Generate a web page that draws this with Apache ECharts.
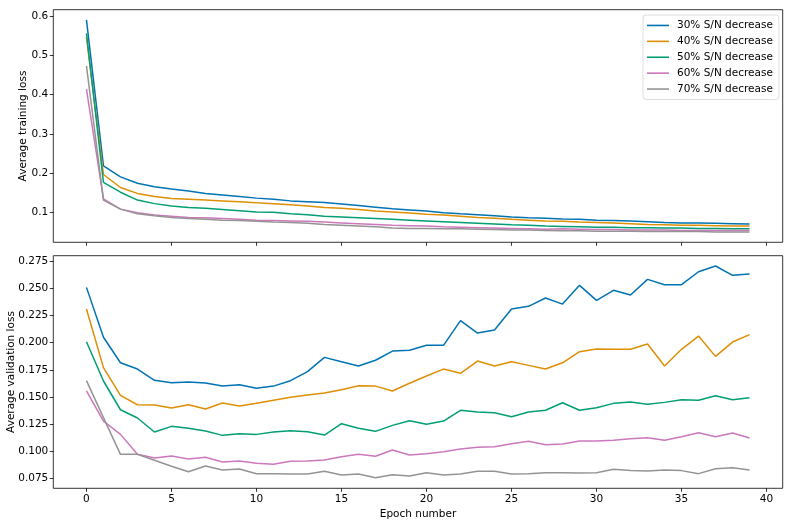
<!DOCTYPE html>
<html>
<head>
<meta charset="utf-8">
<script src="https://cdn.jsdelivr.net/npm/echarts@6/dist/echarts.min.js"></script>
<style>html,body{margin:0;padding:0;background:#fff}#c{width:793px;height:529px}</style>
</head>
<body>
<div id="c"></div>
<script>
const epochs = Array.from({length: 40}, (_, i) => i);
const seriesNames = ['30% S/N decrease', '40% S/N decrease', '50% S/N decrease', '60% S/N decrease', '70% S/N decrease'];
const colors = ['#0173b2', '#de8f05', '#029e73', '#cc78bc', '#949494'];

const train30 = [0.590,0.219,0.191,0.175,0.166,0.160,0.155,0.149,0.145,0.141,0.137,0.134,0.130,0.128,0.126,0.122,0.118,0.114,0.110,0.107,0.104,0.100,0.097,0.095,0.092,0.089,0.087,0.086,0.084,0.083,0.081,0.080,0.079,0.077,0.075,0.074,0.074,0.073,0.072,0.071];
const train40 = [0.546,0.197,0.164,0.149,0.141,0.136,0.134,0.132,0.130,0.128,0.125,0.123,0.120,0.117,0.113,0.111,0.108,0.104,0.102,0.099,0.096,0.094,0.091,0.088,0.086,0.083,0.081,0.079,0.078,0.076,0.075,0.074,0.072,0.070,0.069,0.068,0.068,0.067,0.066,0.066];
const train50 = [0.556,0.177,0.152,0.132,0.123,0.117,0.113,0.111,0.108,0.105,0.102,0.101,0.097,0.095,0.091,0.089,0.087,0.085,0.083,0.081,0.079,0.077,0.075,0.073,0.071,0.069,0.068,0.066,0.065,0.064,0.063,0.063,0.062,0.062,0.061,0.061,0.060,0.060,0.059,0.059];
const train60 = [0.414,0.135,0.109,0.100,0.094,0.091,0.088,0.087,0.085,0.083,0.081,0.080,0.079,0.078,0.076,0.074,0.072,0.070,0.068,0.067,0.066,0.064,0.063,0.062,0.061,0.060,0.059,0.058,0.059,0.058,0.057,0.057,0.056,0.056,0.056,0.055,0.055,0.055,0.055,0.055];
const train70 = [0.473,0.132,0.109,0.097,0.092,0.088,0.085,0.083,0.081,0.080,0.078,0.076,0.075,0.073,0.070,0.068,0.066,0.064,0.061,0.060,0.060,0.059,0.059,0.058,0.057,0.056,0.056,0.055,0.054,0.054,0.053,0.053,0.053,0.052,0.052,0.052,0.052,0.051,0.051,0.051];

const val30 = [0.251,0.205,0.1815,0.1757,0.1653,0.1631,0.1638,0.1628,0.160,0.1613,0.158,0.160,0.165,0.1733,0.1865,0.1825,0.1785,0.1838,0.1923,0.193,0.1976,0.1976,0.2203,0.2089,0.2117,0.231,0.2335,0.2412,0.2356,0.2529,0.239,0.2483,0.244,0.2584,0.2535,0.2535,0.2654,0.2707,0.2621,0.2633];
const val40 = [0.231,0.177,0.1515,0.1428,0.1426,0.1398,0.1428,0.1389,0.1444,0.1416,0.1441,0.1469,0.1497,0.1518,0.1536,0.1567,0.1604,0.160,0.1555,0.1626,0.1693,0.1757,0.1718,0.1831,0.1785,0.1825,0.1791,0.1757,0.1815,0.1917,0.1942,0.194,0.194,0.1988,0.1785,0.1939,0.2061,0.1874,0.2006,0.2074];
const val50 = [0.2009,0.1647,0.1382,0.1306,0.1177,0.1229,0.1211,0.1186,0.1146,0.1161,0.1155,0.1177,0.1189,0.118,0.1149,0.1253,0.1211,0.1183,0.1238,0.1281,0.1248,0.1278,0.1377,0.1361,0.1355,0.1318,0.1361,0.1377,0.1447,0.1377,0.1401,0.1441,0.1453,0.1432,0.145,0.1474,0.1469,0.1511,0.1474,0.1493];
const val60 = [0.1555,0.1278,0.1155,0.0971,0.0937,0.0956,0.0928,0.0944,0.090,0.0909,0.0888,0.0879,0.0907,0.0909,0.0919,0.0949,0.0971,0.0953,0.1011,0.0965,0.0977,0.0995,0.102,0.1036,0.1041,0.1069,0.1091,0.106,0.1066,0.1094,0.1094,0.110,0.1115,0.1124,0.110,0.1133,0.117,0.1133,0.1167,0.1121];
const val70 = [0.165,0.1309,0.0971,0.0971,0.0916,0.0861,0.0811,0.0863,0.0827,0.0836,0.0793,0.0793,0.079,0.079,0.0815,0.078,0.079,0.0756,0.0783,0.0771,0.0802,0.078,0.079,0.0815,0.0815,0.079,0.0793,0.0802,0.0802,0.080,0.0802,0.0833,0.0821,0.0818,0.0827,0.0821,0.0793,0.0838,0.0848,0.0827];

const xTicks = [0,5,10,15,20,25,30,35,40];
const trainTicks = [0.1,0.2,0.3,0.4,0.5,0.6];
const valTicks = [0.075,0.100,0.125,0.150,0.175,0.200,0.225,0.250,0.275];

const trainData = [train30, train40, train50, train60, train70];
const valData = [val30, val40, val50, val60, val70];

const FONT = 'DejaVu Sans';
const tickStyle = {show: true, inside: false, length: 3.5, lineStyle: {color: '#000', width: 0.8}};

function xAxisCfg(gridIndex, showLabels) {
  return {
    type: 'value', gridIndex, min: -1.95, max: 40.95,
    splitLine: {show: false},
    axisLine: {show: false, onZero: false},
    axisTick: Object.assign({customValues: xTicks}, tickStyle),
    axisLabel: {show: showLabels, customValues: xTicks, color: '#000', fontFamily: FONT, fontSize: 10.5, margin: 5},
    name: showLabels ? 'Epoch number' : '', nameLocation: 'middle', nameGap: 20, nameMoveOverlap: false,
    nameTextStyle: {color: '#000', fontFamily: FONT, fontSize: 10.5}
  };
}
function yAxisCfg(gridIndex, min, max, ticks, name, digits, gap) {
  return {
    type: 'value', gridIndex, min, max,
    splitLine: {show: false},
    axisLine: {show: false, onZero: false},
    axisTick: Object.assign({customValues: ticks}, tickStyle),
    axisLabel: {customValues: ticks, color: '#000', fontFamily: FONT, fontSize: 10.5, margin: 5,
      formatter: v => v.toFixed(digits)},
    name, nameLocation: 'middle', nameGap: gap, nameMoveOverlap: false,
    nameTextStyle: {color: '#000', fontFamily: FONT, fontSize: 10.5}
  };
}

const series = [];
seriesNames.forEach((n, i) => {
  series.push({name: n, type: 'line', xAxisIndex: 0, yAxisIndex: 0, showSymbol: false, symbol: 'none',
    data: epochs.map((e, j) => [e, trainData[i][j]]), lineStyle: {width: 1.5, color: colors[i]}, itemStyle: {color: colors[i]}, animation: false});
});
seriesNames.forEach((n, i) => {
  series.push({name: n, type: 'line', xAxisIndex: 1, yAxisIndex: 1, showSymbol: false, symbol: 'none',
    data: epochs.map((e, j) => [e, valData[i][j]]), lineStyle: {width: 1.5, color: colors[i]}, itemStyle: {color: colors[i]}, animation: false});
});

const chart = echarts.init(document.getElementById('c'), null, {renderer: 'canvas'});
chart.setOption({
  backgroundColor: '#fff',
  animation: false,
  color: colors,
  grid: [
    {left: 53.3, right: 10.3, top: 9.7, height: 232.6, show: true, borderColor: '#000', borderWidth: 0.8, containLabel: false, outerBoundsMode: 'none'},
    {left: 53.3, right: 10.3, top: 255.7, height: 232.6, show: true, borderColor: '#000', borderWidth: 0.8, containLabel: false, outerBoundsMode: 'none'}
  ],
  xAxis: [xAxisCfg(0, false), xAxisCfg(1, true)],
  yAxis: [
    yAxisCfg(0, 0.0247, 0.616, trainTicks, 'Average training loss', 1, 25),
    yAxisCfg(1, 0.0658, 0.2802, valTicks, 'Average validation loss', 3, 37)
  ],
  legend: {
    data: seriesNames, orient: 'vertical', left: 643, top: 15,
    icon: 'rect', itemWidth: 22, itemHeight: 1.6, itemGap: 0,
    padding: [2.5, 6, 2.5, 4],
    borderColor: '#d6d6d6', borderWidth: 0.8, borderRadius: 3, backgroundColor: 'rgba(255,255,255,0.8)',
    textStyle: {color: '#000', fontFamily: FONT, fontSize: 10.5, lineHeight: 15.9, padding: [0, 0, 0, 3]}
  },
  series
});
</script>
</body>
</html>
